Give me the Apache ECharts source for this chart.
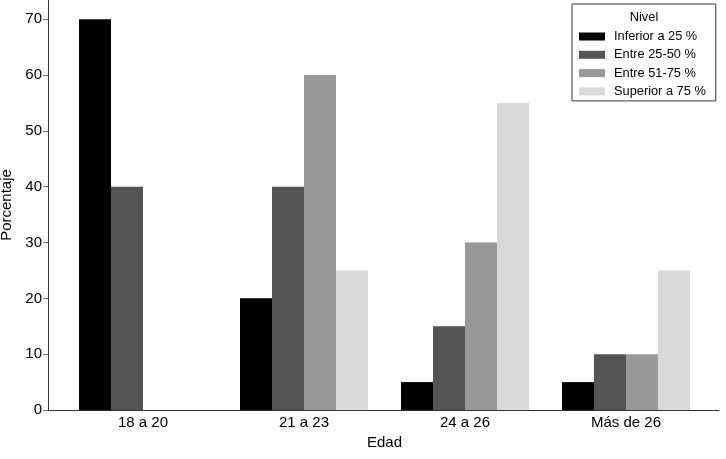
<!DOCTYPE html>
<html>
<head>
<meta charset="utf-8">
<script src="https://cdn.jsdelivr.net/npm/echarts@6/dist/echarts.min.js"></script>
<style>html,body{margin:0;padding:0;background:#fff;}#c{width:726px;height:459px;}</style>
</head>
<body>
<div id="c"></div>
<script>
var categories = ['18 a 20', '21 a 23', '24 a 26', 'Más de 26'];
var seriesNames = ['Inferior a 25 %', 'Entre 25-50 %', 'Entre 51-75 %', 'Superior a 75 %'];
var inferior25 = [70, 20, 5, 5];
var entre25_50 = [40, 40, 15, 10];
var entre51_75 = [0, 60, 30, 10];
var superior75 = [0, 25, 55, 25];
var yTicks = [0, 10, 20, 30, 40, 50, 60, 70];
var colors = ['#000000', '#555555', '#999999', '#d9d9d9'];
var YMAX = 73.46;
var FONT = 'Liberation Sans, Arial, sans-serif';

var values = [inferior25, entre25_50, entre51_75, superior75];
var chart = echarts.init(document.getElementById('c'), null, {renderer: 'canvas'});
var series = values.map(function (v, i) {
  return {
    name: seriesNames[i], type: 'bar', xAxisIndex: 0, yAxisIndex: 0,
    data: v, barWidth: 32, barGap: '0%',
    itemStyle: {color: colors[i]}, emphasis: {disabled: true}, animation: false
  };
});
chart.setOption({
  animation: false,
  textStyle: {fontFamily: FONT},
  grid: [
    {left: 62.5, right: 19.5, top: 0, bottom: 49, containLabel: false, outerBoundsMode: 'none'},
    {left: 48, right: 7, top: 0, bottom: 49, containLabel: false, outerBoundsMode: 'none'}
  ],
  xAxis: [
    {gridIndex: 0, type: 'category', data: categories,
     axisLine: {show: false}, axisTick: {show: false}, splitLine: {show: false},
     axisLabel: {margin: 5, fontSize: 15, color: '#000', fontFamily: FONT},
     name: 'Edad', nameLocation: 'middle', nameGap: 22,
     nameTextStyle: {fontSize: 15, color: '#000', fontFamily: FONT}},
    {gridIndex: 1, type: 'value', min: 0, max: 1,
     axisLine: {show: true, lineStyle: {color: '#333', width: 1}},
     axisTick: {show: false}, axisLabel: {show: false}, splitLine: {show: false}}
  ],
  yAxis: [
    {gridIndex: 0, type: 'value', min: 0, max: YMAX, show: false, splitLine: {show: false}},
    {gridIndex: 1, type: 'value', min: 0, max: YMAX,
     axisLine: {show: true, lineStyle: {color: '#333', width: 1}},
     axisTick: {show: true, length: 5, customValues: yTicks, lineStyle: {color: '#777'}},
     axisLabel: {show: true, customValues: yTicks, margin: 6, fontSize: 15, color: '#000', fontFamily: FONT},
     splitLine: {show: false},
     name: 'Porcentaje', nameLocation: 'middle', nameGap: 31,
     nameTextStyle: {fontSize: 15, color: '#000', fontFamily: FONT}}
  ],
  legend: {
    data: seriesNames, orient: 'vertical', left: 572, top: 4,
    padding: [26, 10, 3, 7], itemWidth: 26, itemHeight: 8, itemGap: 5.3,
    borderColor: '#333', borderWidth: 1, backgroundColor: '#fff',
    icon: 'rect', selectedMode: false,
    textStyle: {fontSize: 12.8, color: '#000', lineHeight: 13, padding: [0, 0, 0, 4], fontFamily: FONT}
  },
  graphic: [
    {type: 'text', x: 644, y: 17, style: {text: 'Nivel', fontSize: 12.8, fill: '#000', align: 'center', verticalAlign: 'middle', fontFamily: FONT}, z: 100}
  ],
  series: series
});
</script>
</body>
</html>
